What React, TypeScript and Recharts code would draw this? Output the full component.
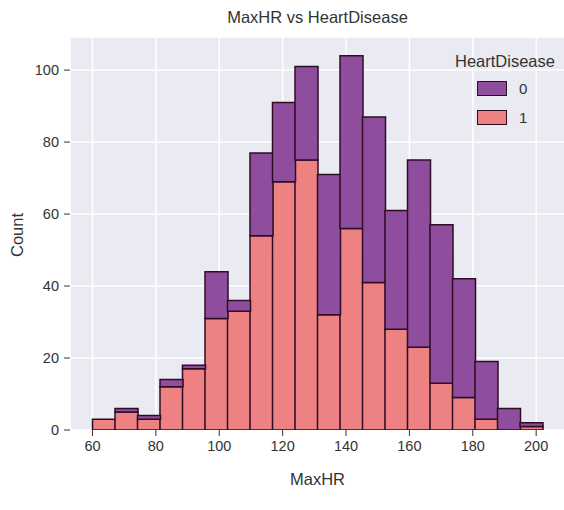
import { BarChart, Bar, XAxis, YAxis, CartesianGrid } from 'recharts'

// MaxHR bins: 20 equal-width bins from 60 to 202
const binStart = [60, 67.1, 74.2, 81.3, 88.4, 95.5, 102.6, 109.7, 116.8, 123.9, 131, 138.1, 145.2, 152.3, 159.4, 166.5, 173.6, 180.7, 187.8, 194.9]
const hd1 = [3, 5, 3, 12, 17, 31, 33, 54, 69, 75, 32, 56, 41, 28, 23, 13, 9, 3, 0, 1]
const hd0 = [0, 1, 1, 2, 1, 13, 3, 23, 22, 26, 39, 48, 46, 33, 52, 44, 33, 16, 6, 1]
const xTicks = [60, 80, 100, 120, 140, 160, 180, 200]
const yTicks = [0, 20, 40, 60, 80, 100]

const data = binStart.map((s, i) => ({ bin: String(i), mid: s + 3.55, one: hd1[i], zero: hd0[i] }))

const FONT = '"Liberation Sans", Arial, sans-serif'
const TXT = '#333'
const PURPLE = '#8e4d9d'
const PINK = '#ee8282'
const EDGE = '#2e0c26'

function LegendBox() {
  const items = [{ name: '0', color: PURPLE }, { name: '1', color: PINK }]
  return (
    <div style={{ position: 'absolute', left: 455, top: 50, fontFamily: FONT, color: TXT }}>
      <div style={{ fontSize: 16.5, lineHeight: '22px', marginBottom: 2 }}>HeartDisease</div>
      {items.map(it => (
        <div key={it.name} style={{ display: 'flex', alignItems: 'center', height: 29, paddingLeft: 22 }}>
          <span style={{ width: 28, height: 13, background: it.color, border: `1.5px solid ${EDGE}`, display: 'inline-block' }} />
          <span style={{ fontSize: 15, marginLeft: 12 }}>{it.name}</span>
        </div>
      ))}
    </div>
  )
}

export default function App() {
  return (
    <div style={{ position: 'absolute', left: 0, top: 0, width: 564, height: 510, overflow: 'hidden', background: '#fff' }}>
      <div style={{ position: 'absolute', left: 0, width: 635, top: 8, textAlign: 'center', fontFamily: FONT, fontSize: 16.5, color: TXT }}>
        MaxHR vs HeartDisease
      </div>
      <div style={{ position: 'absolute', left: 317.5, top: 470, transform: 'translateX(-50%)', fontFamily: FONT, fontSize: 16.5, color: TXT }}>
        MaxHR
      </div>
      <div style={{ position: 'absolute', left: 17, top: 235, transform: 'translate(-50%, -50%) rotate(-90deg)', fontFamily: FONT, fontSize: 16.5, color: TXT }}>
        Count
      </div>
      <BarChart width={570} height={510} data={data} barCategoryGap={0} margin={{ top: 37, right: 5, bottom: 30, left: 0 }}>
        <CartesianGrid xAxisId="num" fill="#eaeaf2" stroke="#ffffff" strokeWidth={1.5} vertical horizontal />
        <XAxis xAxisId="num" dataKey="mid" type="number" domain={[52.9, 209.1]} allowDataOverflow ticks={xTicks}
          height={50} axisLine={false} tickSize={6} tickLine={{ stroke: TXT }} tickMargin={5}
          tick={{ fill: TXT, fontSize: 14.5, fontFamily: FONT }} />
        <XAxis xAxisId="bins" dataKey="bin" type="category" hide height={0} padding={{ left: 22.5, right: 22.5 }} />
        <YAxis domain={[0, 109.2]} ticks={yTicks} width={70} axisLine={false} tickSize={6} tickLine={{ stroke: TXT }} tickMargin={5}
          tick={{ fill: TXT, fontSize: 14.5, fontFamily: FONT }} allowDataOverflow />
        <Bar xAxisId="bins" dataKey="one" stackId="s" fill={PINK} stroke={EDGE} strokeWidth={1.5} isAnimationActive={false} />
        <Bar xAxisId="bins" dataKey="zero" stackId="s" fill={PURPLE} stroke={EDGE} strokeWidth={1.5} isAnimationActive={false} />
      </BarChart>
      <LegendBox />
    </div>
  )
}
